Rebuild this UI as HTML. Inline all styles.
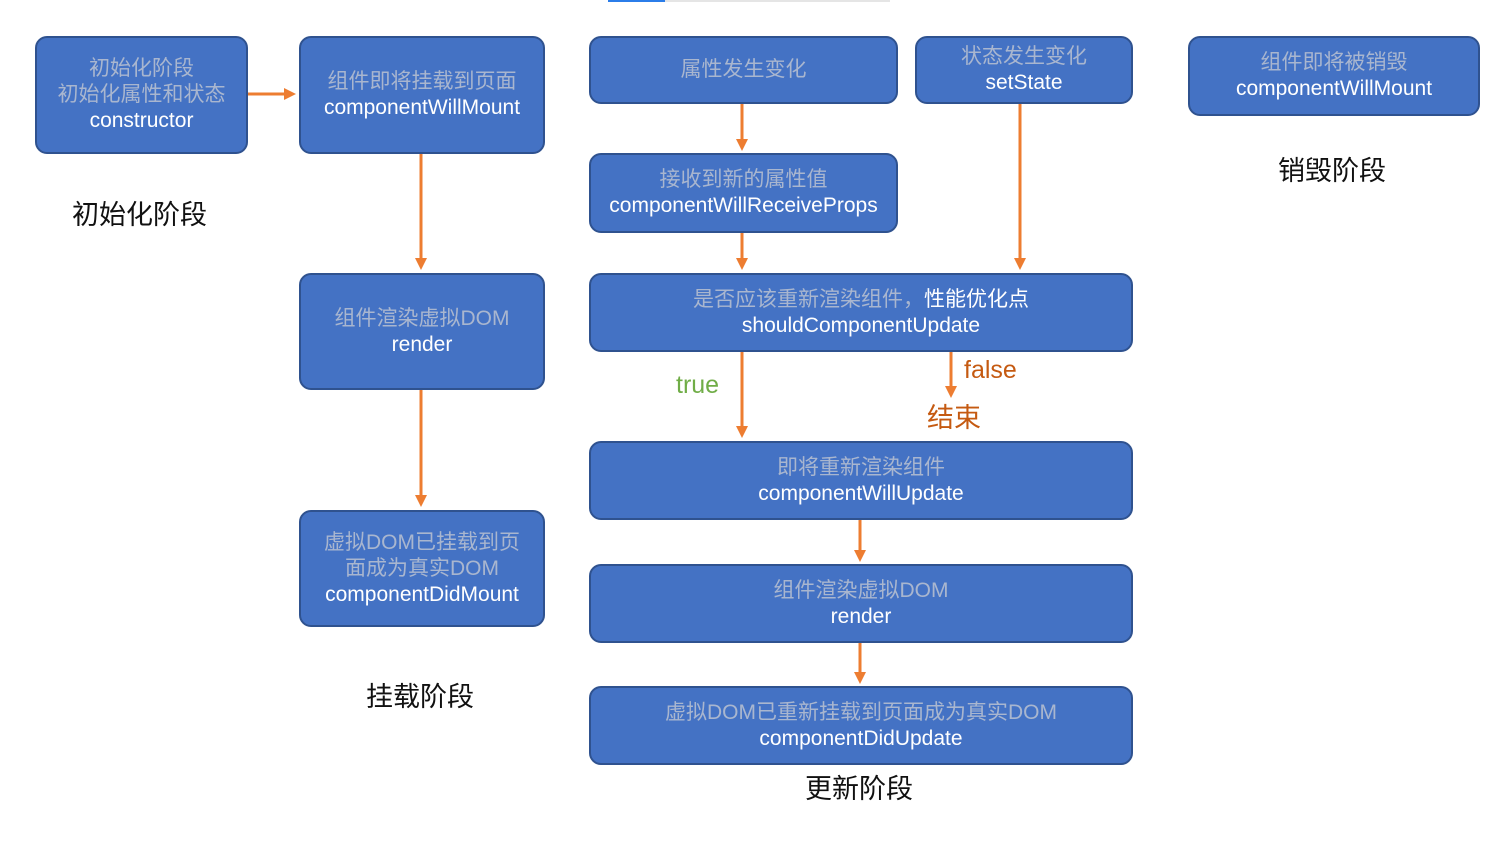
<!DOCTYPE html>
<html><head><meta charset="utf-8"><style>
body{margin:0;width:1500px;height:844px;background:#fff;position:relative;overflow:hidden;font-family:"Liberation Sans","Noto Sans CJK SC",sans-serif}
.b{position:absolute;box-sizing:border-box;background:#4472c4;border:2px solid #2f528f;border-radius:12px;display:flex;flex-direction:column;justify-content:center;align-items:center;text-align:center;font-size:21px;line-height:26px;color:#fff}
.c{color:#a9b6cf}
.l{position:absolute;font-size:27px;color:#111;white-space:nowrap}
svg{position:absolute;left:0;top:0}
</style></head><body>
<div style="position:absolute;left:608px;top:0;width:57px;height:2px;background:#2b7de9"></div>
<div style="position:absolute;left:665px;top:0;width:225px;height:2px;background:#e5e5e5"></div>

<div class="b" style="left:35px;top:36px;width:213px;height:118px"><span class="c">初始化阶段</span><span class="c">初始化属性和状态</span><span>constructor</span></div>
<div class="b" style="left:299px;top:36px;width:246px;height:118px"><span class="c">组件即将挂载到页面</span><span>componentWillMount</span></div>
<div class="b" style="left:299px;top:273px;width:246px;height:117px"><span class="c">组件渲染虚拟DOM</span><span>render</span></div>
<div class="b" style="left:299px;top:510px;width:246px;height:117px"><span class="c">虚拟DOM已挂载到页</span><span class="c">面成为真实DOM</span><span>componentDidMount</span></div>
<div class="b" style="left:589px;top:36px;width:309px;height:68px"><span class="c">属性发生变化</span></div>
<div class="b" style="left:915px;top:36px;width:218px;height:68px"><span class="c">状态发生变化</span><span>setState</span></div>
<div class="b" style="left:1188px;top:36px;width:292px;height:80px"><span class="c">组件即将被销毁</span><span>componentWillMount</span></div>
<div class="b" style="left:589px;top:153px;width:309px;height:80px"><span class="c">接收到新的属性值</span><span>componentWillReceiveProps</span></div>
<div class="b" style="left:589px;top:273px;width:544px;height:79px"><span><span class="c">是否应该重新渲染组件，</span>性能优化点</span><span>shouldComponentUpdate</span></div>
<div class="b" style="left:589px;top:441px;width:544px;height:79px"><span class="c">即将重新渲染组件</span><span>componentWillUpdate</span></div>
<div class="b" style="left:589px;top:564px;width:544px;height:79px"><span class="c">组件渲染虚拟DOM</span><span>render</span></div>
<div class="b" style="left:589px;top:686px;width:544px;height:79px"><span class="c">虚拟DOM已重新挂载到页面成为真实DOM</span><span>componentDidUpdate</span></div>

<div class="l" style="left:72px;top:193px">初始化阶段</div>
<div class="l" style="left:366px;top:675px">挂载阶段</div>
<div class="l" style="left:1278px;top:149px">销毁阶段</div>
<div class="l" style="left:805px;top:767px">更新阶段</div>
<div class="l" style="left:676px;top:371px;color:#70ad47;font-size:25px">true</div>
<div class="l" style="left:964px;top:356px;color:#c55a11;font-size:25px">false</div>
<div class="l" style="left:927px;top:396px;color:#c55a11">结束</div>

<svg width="1500" height="844">
<defs><marker id="a" markerWidth="4" markerHeight="4" refX="2" refY="2" orient="auto" markerUnits="strokeWidth"><path d="M0,0L4,2L0,4z" fill="#ed7d31"/></marker></defs>
<g stroke="#ed7d31" stroke-width="3" marker-end="url(#a)">
<line x1="248" y1="94" x2="290" y2="94"/>
<line x1="421" y1="154" x2="421" y2="264"/>
<line x1="421" y1="390" x2="421" y2="501"/>
<line x1="742" y1="104" x2="742" y2="145"/>
<line x1="742" y1="233" x2="742" y2="264"/>
<line x1="1020" y1="104" x2="1020" y2="264"/>
<line x1="742" y1="352" x2="742" y2="432"/>
<line x1="951" y1="352" x2="951" y2="392"/>
<line x1="860" y1="520" x2="860" y2="556"/>
<line x1="860" y1="643" x2="860" y2="678"/>
</g></svg>
</body></html>
